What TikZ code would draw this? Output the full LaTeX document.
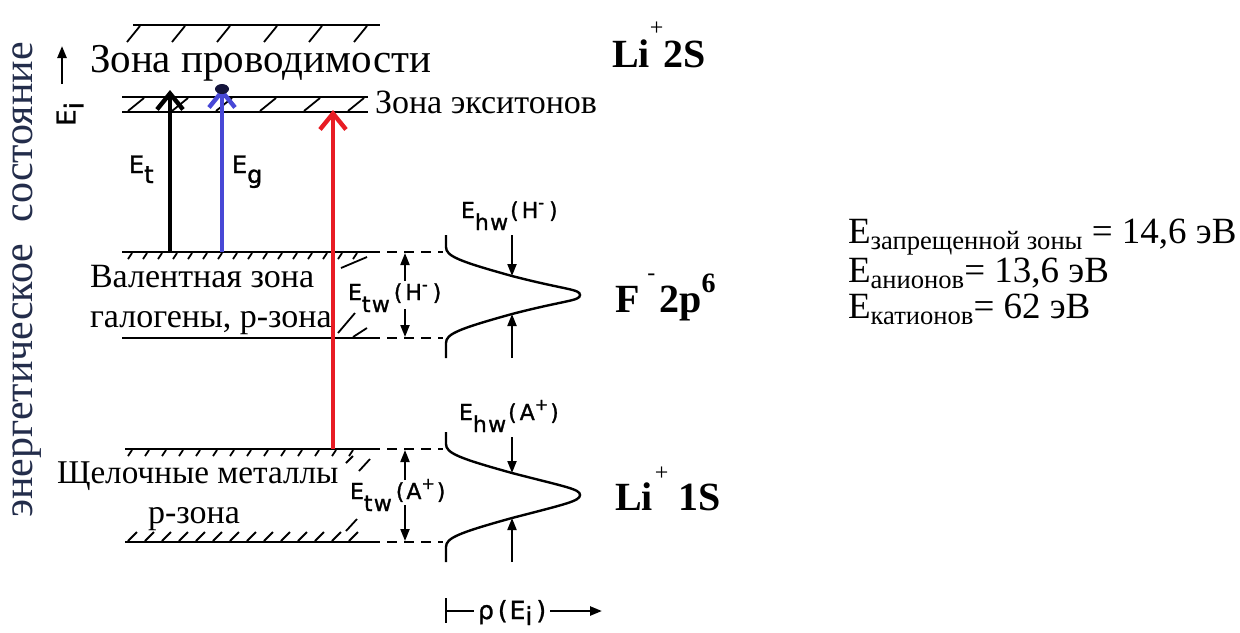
\documentclass[tikz,border=0pt]{standalone}
\usepackage{fontspec}
\setmainfont{Liberation Serif}
\newfontfamily\sansf[LetterSpace=6,FakeBold=1.2]{DejaVu Sans}
\usetikzlibrary{arrows.meta}
\definecolor{vblue}{RGB}{72,72,214}
\definecolor{vred}{RGB}{232,28,36}
\definecolor{navy}{RGB}{35,45,75}
\definecolor{blob}{RGB}{20,20,60}
\newcommand{\fsz}[1]{\fontsize{#1}{#1}\selectfont}
\newcommand{\lowr}[2]{\raisebox{-#1}[0pt][0pt]{#2}}
\begin{document}
\begin{tikzpicture}[x=0.5pt,y=-0.5pt,
  band/.style={line width=1.4pt},
  hatch/.style={line width=0.9pt},
  dashline/.style={line width=0.8pt, dash pattern=on 5pt off 3.5pt},
  dos/.style={line width=1.2pt},
  smallarrow/.style={line width=1pt,-{Triangle[length=6pt,width=4.5pt]}},
  bigarrow/.style={line width=2.2pt,-{Straight Barb[length=8pt,width=13pt]}},
  lbl/.style={inner sep=0pt, outer sep=0pt},
  sanslbl/.style={lbl, anchor=base west, font=\sansf\fsz{12}},
  tinylbl/.style={lbl, anchor=base west, font=\sansf\fsz{11}},
  boldlbl/.style={lbl, anchor=base west, font=\bfseries\fsz{20}},
  ruslbl/.style={lbl, anchor=base west, font=\fsz{17}},
  rightlbl/.style={lbl, anchor=base west, font=\fsz{18.5}, text height=12.5pt, text depth=3pt},
]
\useasboundingbox (0,0) rectangle (1240,632);

% ---- conduction band top
\draw[band] (133,25) -- (380,25);
\foreach \x in {140,185,230,277,322,367} \draw[hatch] (\x,26) -- (\x-13,42);

% ---- exciton band
\draw[band] (122,97) -- (368,97);
\draw[band] (122,112) -- (368,112);
\foreach \x in {128,172,216,260,304,348} \draw[hatch] (\x,111) -- (\x+16,98);

% ---- valence band
\draw[band] (122,252) -- (370,252);
\draw[band] (122,338) -- (370,338);
\foreach \x in {132,147,...,357} \draw[hatch] (\x,253) -- (\x-4,259);
\draw[hatch] (367,257) -- (341,268);
\draw[hatch] (355,313) -- (338,333);
\draw[hatch] (367,328) -- (353,337);

% ---- alkali band
\draw[band] (125,449) -- (370,449);
\draw[band] (125,542) -- (370,542);
\foreach \x in {132,149,...,357} \draw[hatch] (\x,450) -- (\x-4,456);
\foreach \x in {128,145,...,358} \draw[hatch] (\x,541) -- (\x+9,532);
\draw[hatch] (353,456) -- (346,463);
\draw[hatch] (370,459) -- (359,471);
\draw[hatch] (357,519) -- (346,531);

% ---- dashed continuations
\foreach \y in {252,338,449,542} \draw[dashline] (370,\y) -- (443,\y);

% ---- density of states curves
\foreach \t/\b/\m in {252/338/295, 449/542/495}{
  \draw[dos] (446,\t-17) -- (446,\t-5) .. controls (446,\t+4) and (458,\t+9) .. (512,\t+24)
    .. controls (566,\t+38) and (580,\m-6) .. (580,\m)
    .. controls (580,\m+6) and (566,\b-38) .. (512,\b-24)
    .. controls (458,\b-9) and (446,\b-4) .. (446,\b+5) -- (446,\b+20);
}

% ---- named end points of arrows
\coordinate (et0) at (170,252); \coordinate (et1) at (170,90);
\coordinate (eg0) at (222,252); \coordinate (eg1) at (222,88);
\coordinate (er0) at (333,449); \coordinate (er1) at (333,110);
\coordinate (htw0) at (405,281); \coordinate (htw1) at (405,253);
\coordinate (htw2) at (405,309); \coordinate (htw3) at (405,337);
\coordinate (hhw0) at (512,235); \coordinate (hhw1) at (512,276);
\coordinate (hhw2) at (512,358); \coordinate (hhw3) at (512,314);
\coordinate (atw0) at (405,480); \coordinate (atw1) at (405,450);
\coordinate (atw2) at (405,505); \coordinate (atw3) at (405,541);
\coordinate (ahw0) at (512,437); \coordinate (ahw1) at (512,473);
\coordinate (ahw2) at (512,562); \coordinate (ahw3) at (512,518);
\coordinate (ei0) at (62,84); \coordinate (ei1) at (62,46);

% ---- transitions
\draw[bigarrow, black] (et0) -- (et1);
\draw[bigarrow, vblue] (eg0) -- (eg1);
\fill[blob] (222,89) ellipse (7 and 5);
\draw[bigarrow, vred] (er0) -- (er1);

% ---- width arrows
\foreach \a/\b in {htw0/htw1, htw2/htw3, hhw0/hhw1, hhw2/hhw3, atw0/atw1, atw2/atw3, ahw0/ahw1, ahw2/ahw3}
  \draw[smallarrow] (\a) -- (\b);
\draw[smallarrow, line width=1.2pt] (ei0) -- (ei1);

% ---- texts
\node[lbl, rotate=90, font=\fsz{21}, text=navy] (vert) at (27,280) {энергетическое\ \ состояние};
\node[lbl, rotate=90, font=\sansf\fsz{13}] (eilbl) at (66,114) {E\lowr{4pt}{i}};
\node[lbl, anchor=base west, font=\fsz{20.5}] (cb) at (90,72) {Зона проводимости};
\node[lbl, anchor=base west, font=\fsz{17}] (ex) at (375,113) {Зона экситонов};
\node[ruslbl] (val1) at (90,287) {Валентная зона};
\node[ruslbl] (val2) at (90,327) {галогены, р-зона};
\node[lbl, anchor=base west, font=\fsz{16.6}] (alk1) at (57,483) {Щелочные металлы};
\node[ruslbl] (alk2) at (148,523) {р-зона};

\node[sanslbl] (etl) at (129,173) {E\lowr{5pt}{t}};
\node[sanslbl] (egl) at (232,173) {E\lowr{5pt}{g}};

\node[tinylbl] (hhwl) at (461,218) {E\lowr{6pt}{hw}\hspace{1pt}(\hspace{1.5pt}H\raisebox{5pt}{\fsz{8}-}\hspace{2.5pt})};
\node[tinylbl] (htwl) at (348,300) {E\lowr{6pt}{tw}\hspace{2pt}(\hspace{1.5pt}H\raisebox{5pt}{\fsz{8}-}\hspace{2.5pt})};
\node[tinylbl] (ahwl) at (459,420) {E\lowr{6pt}{hw}\hspace{1pt}(\hspace{1.5pt}A\raisebox{5pt}{\fsz{8}+}\hspace{1pt})};
\node[tinylbl] (atwl) at (350,499) {E\lowr{6pt}{tw}\hspace{2pt}(\hspace{1pt}A\raisebox{5pt}{\fsz{8}+}\hspace{1pt})};

\node[boldlbl] (li2s) at (612,67) {Li\raisebox{16pt}{\mdseries\fsz{12}+}2S};
\node[boldlbl] (f2p) at (615,312) {F\hspace{4pt}\raisebox{16pt}{\mdseries\fsz{12}-}\hspace{2pt}2p\raisebox{10pt}{\fsz{14}6}};
\node[boldlbl] (li1s) at (615,510) {Li\hspace{1pt}\raisebox{15pt}{\mdseries\fsz{12}+}\hspace{5pt}1S};

\node[lbl, anchor=base west, font=\sansf\fsz{12.5}] (rho) at (478,619) {ρ\hspace{2pt}(\hspace{1pt}E\lowr{3pt}{i}\hspace{2pt})};
\draw[line width=1.2pt] (446,598) -- (446,623);
\draw[line width=1.2pt] (446,611) -- ([xshift=-2pt]rho.west |- 0,611);
\coordinate (rhoend) at (602,611);
\draw[smallarrow, line width=1.2pt] ([xshift=2pt]rho.east |- 0,611) -- (rhoend);

\node[rightlbl] (r1) at (848,243) {E\lowr{3pt}{\fsz{13.3}запрещенной зоны} = 14,6 эВ};
\node[rightlbl] (r2) at (848,282) {E\lowr{3pt}{\fsz{13.3}анионов}= 13,6 эВ};
\node[rightlbl] (r3) at (848,318) {E\lowr{3pt}{\fsz{13.3}катионов}= 62 эВ};
\end{tikzpicture}
\end{document}
